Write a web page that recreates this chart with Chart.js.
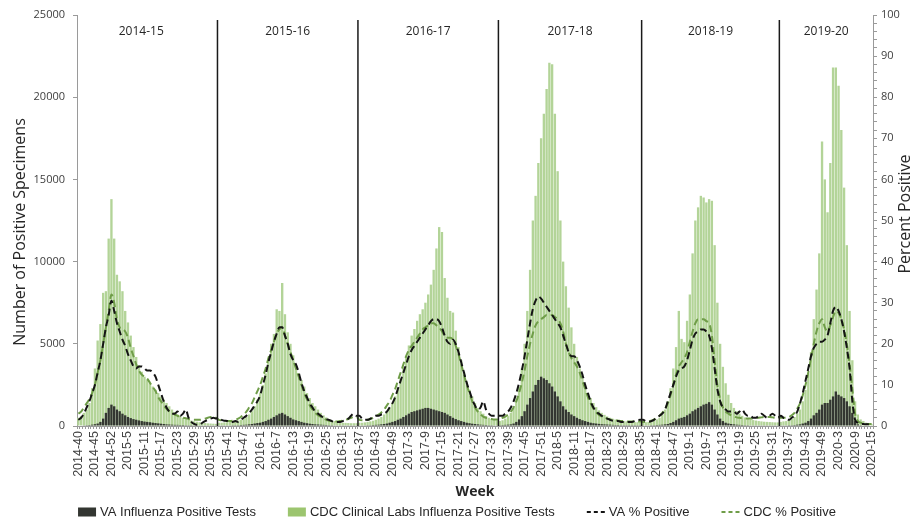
<!DOCTYPE html>
<html>
<head>
<meta charset="utf-8">
<script src="https://cdn.jsdelivr.net/npm/chart.js@4.4.1/dist/chart.umd.min.js"></script>
<style>
  html, body { margin: 0; padding: 0; background: #fff; }
  #wrap { width: 914px; height: 521px; position: relative; }
</style>
</head>
<body>
<div id="wrap"><canvas id="chart"></canvas></div>
<script>
// Influenza surveillance by week, 2014-40 .. 2020-15 (289 weeks)
const weeks = [];
for (let w = 40; w <= 53; w++) weeks.push('2014-' + w);
for (let y = 2015; y <= 2019; y++) for (let w = 1; w <= 52; w++) weeks.push(y + '-' + w);
for (let w = 1; w <= 15; w++) weeks.push('2020-' + w);

// labels printed under every 6th week
const tickLabels = ['2014-40', '2014-45', '2014-52',
  '2015-5', '2015-11', '2015-17', '2015-23', '2015-29', '2015-35', '2015-41', '2015-47',
  '2016-1', '2016-7', '2016-13', '2016-19', '2016-25', '2016-31', '2016-37', '2016-43', '2016-49',
  '2017-3', '2017-9', '2017-15', '2017-21', '2017-27', '2017-33', '2017-39', '2017-45', '2017-51',
  '2018-5', '2018-11', '2018-17', '2018-23', '2018-29', '2018-35', '2018-41', '2018-47',
  '2019-1', '2019-7', '2019-13', '2019-19', '2019-25', '2019-31', '2019-37', '2019-43', '2019-49',
  '2020-3', '2020-9', '2020-15'];

const seasonLabels = ['2014-15', '2015-16', '2016-17', '2017-18', '2018-19', '2019-20'];
const dividerWeeks = ['2015-38', '2016-37', '2017-36', '2018-36', '2019-34'];

// CDC clinical labs positive tests
const cdcTests = [
  // 2014-15
  500, 600, 800, 1000, 1400, 2300, 3500, 5200, 6200, 8100,
  8200, 11400, 13800, 11400, 9200, 8800, 8200, 7000, 6300, 5500,
  4800, 4200, 3700, 3300, 3000, 2800, 2600, 2400, 2200, 2000,
  1800, 1600, 1400, 1200, 1000, 850, 700, 600, 500, 420,
  380, 330, 290, 260, 230, 200, 180, 160, 150, 140,
  130,
  // 2015-16
  200, 200, 220, 230, 250, 280, 300, 330, 380, 450,
  550, 700, 900, 1200, 1600, 2000, 2500, 3200, 4100, 5000,
  5600, 7100, 7000, 8700, 6800, 5700, 5000, 4300, 3700, 3200,
  2800, 2400, 2000, 1700, 1400, 1200, 1000, 800, 650, 520,
  420, 350, 300, 260, 230, 200, 190, 180, 170, 170,
  170,
  // 2016-17
  200, 200, 220, 250, 280, 320, 380, 450, 550, 700,
  900, 1100, 1400, 1800, 2300, 2900, 3600, 4200, 4900, 5500,
  5900, 6400, 6800, 7100, 7500, 8000, 8600, 9500, 10800, 12100,
  11800, 9000, 7800, 7000, 6900, 5800, 4800, 4000, 3300, 2700,
  2200, 1800, 1400, 1100, 900, 750, 600, 500, 420, 380,
  350,
  // 2017-18
  300, 350, 450, 600, 800, 1100, 1600, 2400, 3500, 5000,
  7000, 9500, 12500, 14000, 16000, 17500, 19000, 20500, 22100, 22000,
  19000, 15500, 12500, 10000, 8500, 7200, 6000, 5000, 4200, 3500,
  2900, 2400, 2000, 1700, 1400, 1150, 950, 800, 680, 580,
  500, 440, 390, 350, 320, 300, 280, 260, 250, 240,
  230, 220,
  // 2018-19
  220, 230, 250, 280, 320, 400, 500, 700, 1000, 1500,
  2300, 3500, 4800, 7000, 5300, 5100, 6400, 8000, 10500, 12500,
  13300, 14000, 13900, 13600, 13800, 13700, 11000, 7500, 5000, 3600,
  2600, 1900, 1400, 1100, 900, 750, 620, 520, 450, 400,
  360, 330, 300, 280, 260, 250, 240, 230, 220, 220,
  // 2019-20
  250, 280, 300, 350, 420, 550, 750, 1000, 1500, 2200,
  3200, 4500, 6500, 8300, 10500, 17300, 15000, 13000, 16000, 21800,
  21800, 20700, 18000, 14500, 11000, 7000, 4000, 1500, 700, 400,
  300, 200, 150, 100
];

// VA positive tests
const vaTests = [
  // 2014-15
  30, 30, 40, 50, 60, 80, 110, 150, 250, 450,
  800, 1100, 1300, 1200, 1000, 900, 750, 650, 550, 480,
  420, 380, 340, 300, 270, 250, 230, 200, 180, 160,
  140, 120, 100, 90, 80, 70, 70, 60, 60, 50,
  50, 50, 40, 40, 40, 40, 40, 40, 40, 40,
  40,
  // 2015-16
  40, 40, 40, 40, 40, 50, 50, 50, 60, 70,
  80, 100, 120, 150, 180, 200, 250, 300, 380, 450,
  550, 650, 750, 800, 700, 600, 500, 400, 350, 300,
  250, 200, 170, 140, 120, 100, 90, 80, 70, 60,
  50, 50, 40, 40, 40, 40, 40, 40, 40, 40,
  40,
  // 2016-17
  40, 40, 40, 50, 50, 60, 70, 80, 100, 120,
  150, 200, 250, 300, 380, 450, 550, 650, 750, 850,
  900, 950, 1000, 1050, 1100, 1100, 1050, 1000, 950, 900,
  850, 800, 700, 600, 500, 420, 350, 300, 250, 200,
  170, 140, 120, 100, 80, 70, 60, 50, 50, 40,
  40,
  // 2017-18
  50, 60, 70, 80, 100, 150, 250, 400, 600, 900,
  1300, 1700, 2100, 2500, 2800, 3000, 2900, 2800, 2600, 2400,
  2100, 1800, 1500, 1200, 1000, 850, 700, 600, 500, 420,
  350, 300, 250, 200, 170, 150, 130, 110, 100, 90,
  80, 70, 60, 60, 50, 50, 50, 50, 50, 50,
  50, 50,
  // 2018-19
  40, 40, 40, 50, 50, 60, 70, 80, 100, 120,
  180, 250, 350, 450, 500, 550, 650, 750, 900, 1000,
  1100, 1200, 1300, 1350, 1450, 1300, 1000, 700, 450, 300,
  200, 150, 120, 100, 80, 70, 60, 50, 50, 40,
  40, 40, 40, 40, 40, 40, 40, 40, 40, 40,
  // 2019-20
  40, 40, 40, 50, 50, 60, 80, 100, 150, 200,
  300, 450, 650, 800, 1000, 1300, 1400, 1400, 1600, 1800,
  2100, 1900, 1800, 1700, 1500, 1200, 800, 300, 100, 50,
  30, 30, 30, 30
];

// VA % positive
const vaPct = [
  // 2014-15
  1.5, 2, 3, 4.5, 6, 8, 10, 13, 16, 20,
  24, 27, 30.5, 28, 25, 23, 21, 19.5, 17.5, 16,
  14.5, 14, 14.5, 14.5, 14, 13.5, 13.5, 13, 12, 10,
  8, 6, 4.5, 3.5, 3, 3, 3.5, 2.5, 3, 4,
  2, 1, 0.5, 0.3, 0.3, 0.8, 1.2, 1.5, 1.8, 2,
  1.8,
  // 2015-16
  1.8, 1.5, 1.3, 1.2, 1.0, 1.0, 1.2, 1.0, 1.5, 2,
  2.5, 3.2, 4, 5, 6, 7.5, 10, 12.5, 15.5, 18,
  20.5, 22.5, 24, 24, 22, 20, 17.5, 16, 15, 13,
  10.5, 8.5, 7, 5.5, 4.5, 3.5, 3, 2.5, 2, 1.7,
  1.5, 1.2, 1, 1, 1, 1.2, 1.5, 1.8, 2.5, 3,
  2.5,
  // 2016-17
  2.5, 1.8, 1.5, 1.5, 1.8, 2.2, 2.5, 2.5, 2.8, 3,
  3.5, 4.5, 5.5, 7, 9, 11, 13, 15, 17, 18.5,
  19.5, 20.5, 21.5, 22.5, 23.5, 24.5, 25.5, 26, 26, 25.5,
  24, 22, 20.5, 20, 21, 20, 18, 15.5, 13, 10.5,
  8.5, 6.5, 5, 4, 4.5, 6, 4, 3, 2.5, 2.5,
  2.5,
  // 2017-18
  2.5, 2.5, 3, 3.5, 4.5, 6, 8, 10.5, 13.5, 17,
  21, 25, 28.5, 30.5, 31.5, 31, 30, 29, 28, 27,
  26, 25, 24, 22, 20, 18, 17, 17, 16, 14.5,
  12.5, 10, 8, 6, 4.5, 3.5, 3, 2.5, 2, 1.8,
  1.5, 1.3, 1.2, 1.2, 1, 1, 1, 1, 1, 1.2,
  1.4, 1.5,
  // 2018-19
  1.5, 1.2, 1.0, 1.2, 1.5, 2, 2.5, 3, 4, 6,
  8, 10, 12, 13.5, 14, 14.5, 16, 18.5, 21, 22.5,
  23, 23.5, 23.5, 23, 22, 19, 14, 9, 6, 4.5,
  4, 3.5, 3.5, 3.5, 3, 3.5, 4, 3, 2.5, 2.5,
  2, 2, 2.5, 3, 2.5, 2, 2.5, 3, 2.5, 2,
  // 2019-20
  2.5, 2, 1.8, 1.5, 2, 2.5, 3.5, 5.5, 8, 11,
  14, 17, 19, 20, 20.5, 20.5, 21, 22, 25, 28,
  29, 28, 26, 23, 19, 14, 6, 1.5, 0.8, 0.5,
  0.5, 0.4, 0.4, 0.3
];

// CDC % positive
const cdcPct = [
  // 2014-15
  3, 3.5, 4.5, 5.5, 6.5, 8, 10, 13, 16, 20,
  24, 28, 32, 30, 26, 24, 23.5, 23, 21.5, 19,
  17, 15, 13.5, 12.5, 12, 11.5, 10.5, 9.5, 8.5, 7,
  6, 5, 4.2, 3.6, 3.2, 2.8, 2.5, 2.2, 2, 1.9,
  1.7, 1.6, 1.5, 1.5, 1.5, 1.6, 1.8, 2, 2.2, 2.2,
  2,
  // 2015-16
  1.5, 1.4, 1.3, 1.2, 1.2, 1.3, 1.5, 1.8, 2.2, 2.8,
  3.5, 4.5, 5.5, 7, 8.5, 10, 12, 14, 16.5, 18.5,
  20.5, 22.5, 23.5, 24, 22, 20, 18, 16, 14, 12,
  10, 8, 6.5, 5, 4, 3.2, 2.6, 2.2, 1.8, 1.5,
  1.3, 1.2, 1.1, 1.1, 1.2, 1.3, 1.5, 1.7, 2, 2.2,
  2.2,
  // 2016-17
  1.5, 1.4, 1.4, 1.5, 1.7, 2, 2.4, 2.8, 3.3, 4,
  5, 6, 7.5, 9, 11, 13, 15, 17, 18.5, 19.5,
  20.5, 21.5, 22.5, 23.5, 24, 24.5, 25, 25, 24.5, 24,
  23, 22, 21.5, 21.5, 21, 19.5, 17.5, 15, 12.5, 10,
  8, 6, 4.5, 3.5, 2.8, 2.3, 2, 1.8, 1.7, 1.6,
  1.6,
  // 2017-18
  1.8, 2, 2.3, 2.8, 3.5, 4.5, 6, 8, 10.5, 13.5,
  17, 20, 22.5, 24.5, 25.5, 26, 26.5, 27, 27, 27,
  26.5, 26, 25, 23, 20, 18, 16.5, 15.5, 14.5, 13,
  11, 9, 7, 5.5, 4.2, 3.3, 2.7, 2.3, 2, 1.8,
  1.6, 1.5, 1.4, 1.3, 1.2, 1.2, 1.1, 1.1, 1.1, 1.1,
  1.1, 1.1,
  // 2018-19
  1, 1, 1.1, 1.3, 1.6, 2, 2.5, 3.2, 4.2, 5.5,
  7.5, 10, 12.5, 14.5, 15.5, 16.5, 18, 20.5, 23, 25,
  26, 26, 26, 25.5, 25, 22, 16, 10, 6.5, 4.5,
  3.5, 3, 2.6, 2.3, 2.1, 2, 1.9, 1.8, 1.8, 1.8,
  1.8, 1.9, 2, 2.1, 2.2, 2.2, 2.2, 2.1, 2, 2,
  // 2019-20
  2, 2, 2, 2.2, 2.6, 3.2, 4.2, 5.5, 7.5, 10,
  13, 16.5, 20, 23, 25, 26, 24, 23, 24.5, 26.5,
  28, 27.5, 26, 23.5, 20, 15, 9, 3, 1.2, 0.8,
  0.6, 0.5, 0.5, 0.5
];

const VA_DARK = '#333631';
const CDC_GREEN = '#b3d498';
const CDC_LINE = '#6f9d48';

// season dividers, season names, axis titles and legend drawn on the canvas
const overlayPlugin = {
  id: 'overlay',
  afterDatasetsDraw(chart) {
    const {ctx, chartArea, scales: {x}} = chart;
    const half = (x.getPixelForValue(1) - x.getPixelForValue(0)) / 2;
    const edges = [chartArea.left]
      .concat(dividerWeeks.map(w => x.getPixelForValue(weeks.indexOf(w)) - half))
      .concat([chartArea.right]);
    ctx.save();
    ctx.strokeStyle = '#1a1a1a';
    ctx.lineWidth = 1.5;
    for (let i = 1; i < edges.length - 1; i++) {
      ctx.beginPath();
      ctx.moveTo(edges[i], chartArea.top + 5);
      ctx.lineTo(edges[i], chartArea.bottom);
      ctx.stroke();
    }
    ctx.font = '12px "Open Sans"';
    ctx.fillStyle = '#262626';
    ctx.textAlign = 'center';
    ctx.textBaseline = 'middle';
    seasonLabels.forEach((s, i) => {
      const cx = i === 0 ? (edges[0] + edges[1]) / 2 - 6 : (edges[i] + edges[i + 1]) / 2;
      ctx.fillText(s, cx, chartArea.top + 17);
    });
    ctx.restore();
  },
  afterDraw(chart) {
    const {ctx} = chart;
    ctx.save();
    // y axis titles, both reading bottom to top
    ctx.font = '16px "Open Sans"';
    ctx.fillStyle = '#262626';
    ctx.textAlign = 'center';
    ctx.textBaseline = 'middle';
    [['Number of Positive Specimens', 20, 232], ['Percent Positive', 905, 214]].forEach(([t, tx, ty]) => {
      ctx.save();
      ctx.translate(tx, ty);
      ctx.rotate(-Math.PI / 2);
      ctx.fillText(t, 0, 0);
      ctx.restore();
    });

    // legend
    const items = chart.data.datasets.map(ds => ({
      text: ds.label, line: ds.type === 'line',
      color: ds.type === 'line' ? ds.borderColor : ds.backgroundColor
    }));
    ctx.font = '13px "Liberation Sans Narrow", "Liberation Sans"';
    const swatch = 18, gap = 4, spacing = 32;
    const widths = items.map(it => swatch + gap + ctx.measureText(it.text).width);
    const total = widths.reduce((a, b) => a + b, 0) + spacing * (items.length - 1);
    let lx = (chart.width - total) / 2;
    const ly = 512;
    ctx.textAlign = 'left';
    items.forEach((it, i) => {
      if (it.line) {
        ctx.strokeStyle = it.color;
        ctx.lineWidth = 2;
        ctx.setLineDash([4, 3]);
        ctx.beginPath();
        ctx.moveTo(lx, ly);
        ctx.lineTo(lx + swatch, ly);
        ctx.stroke();
        ctx.setLineDash([]);
      } else {
        ctx.fillStyle = i === 1 ? '#9cc56f' : it.color;
        ctx.fillRect(lx, ly - 4.5, swatch, 9);
      }
      ctx.fillStyle = '#262626';
      ctx.fillText(it.text, lx + swatch + gap, ly);
      lx += widths[i] + spacing;
    });
    ctx.restore();
  }
};

new Chart(document.getElementById('chart'), {
  data: {
    labels: weeks,
    datasets: [
      {
        type: 'bar', label: 'VA Influenza Positive Tests', data: vaTests,
        backgroundColor: VA_DARK, yAxisID: 'y', grouped: false, order: 1,
        barPercentage: 0.85, categoryPercentage: 1
      },
      {
        type: 'bar', label: 'CDC Clinical Labs Influenza Positive Tests', data: cdcTests,
        backgroundColor: CDC_GREEN, yAxisID: 'y', grouped: false, order: 2,
        barPercentage: 0.85, categoryPercentage: 1
      },
      {
        type: 'line', label: 'VA % Positive', data: vaPct,
        borderColor: '#141414', borderWidth: 2, borderDash: [7, 4],
        pointRadius: 0, cubicInterpolationMode: 'monotone', yAxisID: 'y1', order: 0
      },
      {
        type: 'line', label: 'CDC % Positive', data: cdcPct,
        borderColor: CDC_LINE, borderWidth: 2, borderDash: [7, 4],
        pointRadius: 0, cubicInterpolationMode: 'monotone', yAxisID: 'y1', order: 0
      }
    ]
  },
  options: {
    responsive: true,
    maintainAspectRatio: false,
    animation: false,
    layout: { padding: { top: 15, left: 0, right: 0, bottom: 20 } },
    plugins: {
      legend: { display: false },
      tooltip: { enabled: false }
    },
    scales: {
      x: {
        type: 'category',
        offset: true,
        afterFit: s => { s.height = 75; },
        grid: { drawOnChartArea: false, tickLength: 3, color: '#9a9a9a' },
        border: { color: '#9a9a9a' },
        ticks: {
          autoSkip: false, maxRotation: 90, minRotation: 90, padding: 2,
          color: '#404040', font: { family: 'Liberation Sans', size: 12.5 },
          callback: (v, i) => (i % 6 === 0 ? tickLabels[i / 6] : '')
        },
        title: {
          display: true, text: 'Week', color: '#262626',
          font: { family: 'Open Sans', size: 14, weight: 'bold' },
          padding: { top: 0, bottom: 1 }
        }
      },
      y: {
        position: 'left', min: 0, max: 25000,
        afterFit: s => { s.width = 77; },
        grid: { drawOnChartArea: false, tickLength: 4, color: '#9a9a9a' },
        border: { color: '#9a9a9a' },
        ticks: {
          stepSize: 5000, padding: 8, color: '#404040',
          font: { family: 'Open Sans', size: 11 },
          callback: v => String(v)
        }
      },
      y1: {
        position: 'right', min: 0, max: 100,
        afterFit: s => { s.width = 41; },
        grid: { drawOnChartArea: false, tickLength: 4, color: '#9a9a9a' },
        border: { color: '#9a9a9a' },
        ticks: {
          stepSize: 2, autoSkip: false, padding: 4, color: '#404040',
          font: { family: 'Open Sans', size: 11 },
          callback: v => (v % 10 === 0 ? String(v) : '')
        }
      }
    }
  },
  plugins: [overlayPlugin]
});
</script>
</body>
</html>
